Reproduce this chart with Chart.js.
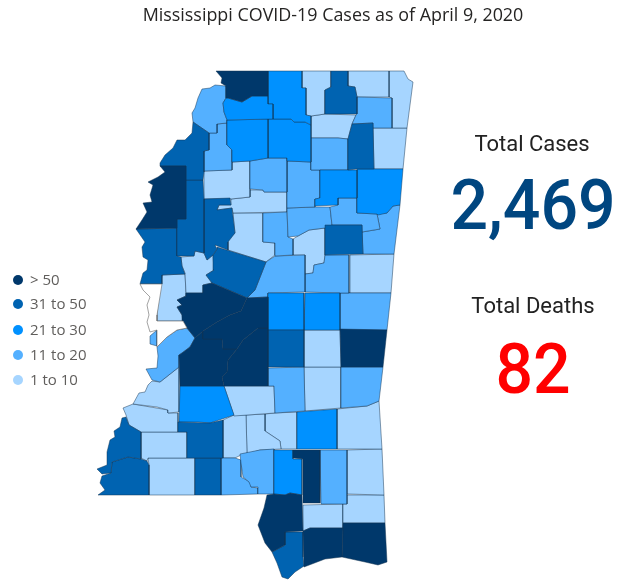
<!DOCTYPE html>
<html lang="en">
<head>
    <meta charset="UTF-8">
    <title>Mississippi COVID-19 Cases</title>
    <script src="https://cdn.jsdelivr.net/npm/chart.js"></script>
    <style>
        body { margin: 0; background: #fff; }
        #page { position: relative; width: 621px; height: 585px; overflow: hidden; }
        canvas { position: absolute; left: 0; top: 0; }
        .txt { position: absolute; white-space: nowrap; text-align: center; }
        #title { left: 0; width: 666px; top: 2px; font: 17.9px "Open Sans", sans-serif; color: #252423; }
        .kpi-label { font: 22px Roboto, sans-serif; color: #222; width: 200px; }
        .kpi-value { font: 500 70px Roboto, sans-serif; width: 260px; transform: scaleX(0.945); line-height: 72px; }
        #legend { position: absolute; left: 12px; top: 267px; }
        .leg { position: absolute; left: 0; height: 24px; font: 15px "Open Sans", sans-serif; color: #605e5c; white-space: nowrap; line-height: 24px; }
        .leg i { position: absolute; left: 1px; top: 8px; width: 10px; height: 10px; border-radius: 50%; }
        .leg span { position: absolute; left: 18px; }
    </style>
</head>
<body>
<div id="page">
    <canvas id="map" width="621" height="585"></canvas>
    <div class="txt" id="title">Mississippi COVID-19 Cases as of April 9, 2020</div>
    <div class="txt kpi-label" style="left:432px;top:131px">Total Cases</div>
    <div class="txt kpi-value" id="cases" style="left:403px;top:169px;color:#004680"></div>
    <div class="txt kpi-label" style="left:433px;top:293px">Total Deaths</div>
    <div class="txt kpi-value" id="deaths" style="left:403px;top:333px;color:#ff0000"></div>
    <div id="legend"></div>
</div>

<script>
    const totalCases = '2,469';
    const totalDeaths = '82';

    const bucketLabels = ['> 50', '31 to 50', '21 to 30', '11 to 20', '1 to 10'];
    const bucketColors = ['#00386b', '#0063b1', '#0091ff', '#54b0ff', '#a6d5ff'];

    // county outlines as [x, y], one list per legend class
    const countiesOver50 = [
        [[216,71],[268,71],[268,96],[252,96],[242,102],[228,98],[226,98],[226,86],[221,83],[222,78]],
        [[186,166],[160,166],[165,172],[158,177],[148,182],[153,185],[150,195],[152,202],[143,203],[147,212],[142,220],[136,229],[177,228],[177,219],[186,219]],
        [[186,293],[203,293],[203,285],[212,283],[247,298],[241,311],[230,315],[217,322],[203,331],[195,338],[187,328],[183,321],[182,315],[177,307],[182,305],[177,300],[186,296]],
        [[230,315],[241,311],[247,298],[268,297],[268,328],[258,328],[243,340],[237,349],[223,349],[222,339],[203,339],[203,331],[217,322]],
        [[195,338],[203,331],[203,339],[222,339],[223,349],[237,349],[228,360],[227,372],[222,377],[224,386],[180,386],[179,355],[182,353],[190,347]],
        [[258,328],[268,328],[268,386],[224,386],[222,377],[227,372],[228,360],[237,349],[243,340]],
        [[340,329],[387,330],[383,367],[341,367]],
        [[293,450],[320,450],[320,503],[303,503],[303,459],[293,458]],
        [[267,495],[274,494],[285,495],[290,493],[302,495],[303,531],[285,532],[285,545],[272,552],[265,543],[258,525],[264,508]],
        [[303,531],[310,528],[343,528],[342,557],[325,559],[304,567]],
        [[343,523],[385,523],[387,562],[378,565],[365,562],[342,557]]
    ];
    const counties31to50 = [
        [[193,122],[209,133],[209,150],[204,151],[204,172],[203,180],[186,180],[186,166],[160,166],[160,163],[165,155],[173,148],[177,140],[185,140],[192,133]],
        [[331,71],[348,71],[348,86],[355,87],[357,97],[357,114],[325,114],[325,90],[331,87]],
        [[352,124],[373,123],[374,169],[357,169],[348,170],[348,139]],
        [[186,180],[203,180],[204,199],[204,253],[195,251],[194,256],[177,256],[177,219],[186,219]],
        [[204,199],[230,198],[231,205],[219,205],[217,210],[232,208],[235,233],[228,242],[228,250],[220,247],[215,245],[217,249],[213,255],[207,260],[204,253]],
        [[136,229],[177,228],[177,256],[181,257],[182,266],[185,274],[162,275],[162,284],[140,284],[143,273],[147,270],[148,260],[143,257],[142,247],[145,242]],
        [[217,247],[266,262],[255,290],[247,298],[212,283],[206,275],[214,270],[213,255],[217,249]],
        [[325,225],[362,225],[363,254],[325,255]],
        [[268,330],[304,330],[304,367],[268,367]],
        [[178,422],[210,423],[223,420],[223,458],[187,458],[187,432],[178,432]],
        [[122,418],[126,417],[129,425],[141,432],[141,459],[128,457],[112,462],[111,473],[102,474],[97,469],[107,465],[107,452],[110,440],[115,437],[114,431],[120,427]],
        [[112,462],[128,457],[141,459],[147,461],[149,465],[149,495],[98,495],[105,490],[100,483],[102,476],[111,473]],
        [[195,458],[221,458],[221,495],[195,495]],
        [[285,532],[303,532],[303,557],[304,566],[295,572],[288,579],[282,577],[277,563],[272,552],[285,545]]
    ];
    const counties21to30 = [
        [[226,98],[228,98],[242,102],[252,96],[268,96],[268,104],[273,104],[273,119],[227,120],[224,112],[223,103]],
        [[268,71],[302,71],[302,88],[306,88],[306,115],[311,116],[311,125],[305,122],[294,122],[291,119],[273,119],[273,104],[268,104]],
        [[227,120],[268,119],[268,158],[250,161],[232,162],[232,150],[227,145]],
        [[268,119],[291,119],[294,122],[305,122],[311,125],[311,162],[287,161],[287,158],[268,158]],
        [[320,170],[357,170],[357,198],[338,198],[338,205],[315,206],[315,199],[320,198]],
        [[357,169],[403,169],[400,205],[393,206],[387,213],[378,215],[377,214],[357,213]],
        [[268,293],[304,293],[304,330],[268,330]],
        [[305,293],[340,293],[340,330],[304,330]],
        [[180,386],[224,386],[234,415],[210,423],[198,422],[179,422]],
        [[297,412],[337,409],[337,449],[297,449]],
        [[274,450],[293,450],[293,459],[302,459],[302,495],[290,493],[285,495],[274,494]]
    ];
    const counties11to20 = [
        [[202,89],[210,88],[215,85],[226,86],[226,98],[223,103],[224,112],[227,120],[227,123],[217,124],[217,133],[209,133],[193,122],[192,113],[195,108],[198,98]],
        [[357,97],[392,98],[392,128],[373,128],[373,123],[352,124],[356,115],[357,114]],
        [[311,138],[338,138],[348,139],[348,170],[320,170],[311,170]],
        [[217,124],[227,123],[227,145],[232,150],[232,170],[204,171],[204,151],[209,150],[209,133],[217,133]],
        [[250,161],[268,158],[287,158],[287,192],[264,192],[263,190],[250,189]],
        [[287,161],[311,162],[311,170],[320,170],[320,198],[315,199],[315,207],[287,208]],
        [[338,198],[357,198],[357,213],[377,214],[380,229],[362,232],[362,225],[332,225],[330,207],[338,205]],
        [[377,214],[387,213],[393,206],[400,205],[394,254],[363,254],[362,232],[380,229]],
        [[287,208],[315,207],[330,207],[332,225],[325,228],[309,230],[298,236],[288,237]],
        [[263,213],[287,212],[288,237],[293,239],[293,255],[275,256],[275,243],[263,242]],
        [[275,256],[305,255],[305,292],[268,293],[268,297],[247,298],[255,290],[266,262]],
        [[305,274],[313,273],[314,265],[324,263],[325,255],[349,255],[349,293],[340,293],[305,292]],
        [[340,293],[391,293],[387,330],[340,330]],
        [[187,328],[195,338],[190,347],[182,353],[179,355],[179,367],[160,382],[152,380],[146,369],[157,368],[158,356],[157,347],[167,337],[177,330]],
        [[150,336],[157,330],[157,346],[150,344]],
        [[268,368],[304,367],[305,411],[275,413],[274,386],[268,386]],
        [[341,367],[383,367],[379,401],[367,406],[341,408]],
        [[240,454],[260,450],[274,449],[274,494],[258,494],[258,487],[251,487],[249,482],[243,477],[241,463]],
        [[221,458],[235,458],[241,460],[241,477],[250,482],[251,487],[258,488],[258,494],[221,495]],
        [[320,450],[347,450],[347,504],[321,504]]
    ];
    const counties1to10 = [
        [[302,71],[331,71],[331,87],[325,90],[325,114],[311,116],[306,115],[306,88],[302,88]],
        [[348,71],[389,71],[389,97],[357,97],[355,87],[348,86]],
        [[389,71],[404,71],[408,79],[413,82],[407,128],[392,128],[392,98],[389,97]],
        [[311,116],[325,114],[356,115],[352,124],[348,139],[338,138],[311,138]],
        [[373,128],[407,128],[403,169],[374,169]],
        [[204,171],[232,170],[232,162],[250,161],[250,197],[231,199],[204,199]],
        [[231,199],[250,197],[250,190],[263,190],[264,192],[287,192],[287,212],[233,213],[232,208],[217,210],[219,205],[231,205]],
        [[233,213],[263,213],[263,242],[275,243],[275,255],[266,262],[228,250],[228,240],[235,233]],
        [[325,228],[325,255],[324,263],[314,265],[313,273],[305,274],[305,255],[293,255],[293,239],[298,236],[309,230]],
        [[350,255],[394,254],[391,293],[349,293]],
        [[195,251],[204,253],[207,260],[213,255],[214,270],[206,275],[212,283],[203,285],[203,293],[186,293],[185,273],[182,266],[181,257],[194,256]],
        [[162,275],[185,274],[186,293],[186,296],[177,300],[182,305],[177,307],[182,315],[183,321],[157,321],[158,300]],
        [[304,330],[340,330],[341,367],[304,367]],
        [[304,367],[341,367],[341,408],[305,411]],
        [[152,381],[160,382],[179,367],[179,412],[168,413],[168,410],[157,407],[133,404],[139,393],[145,392],[148,385]],
        [[123,408],[133,404],[168,410],[168,413],[178,413],[178,432],[141,432],[129,425],[126,415]],
        [[224,386],[274,386],[275,413],[234,416]],
        [[223,420],[234,415],[246,415],[247,453],[241,455],[235,458],[223,458]],
        [[246,415],[265,414],[265,431],[280,441],[281,449],[260,450],[247,454]],
        [[265,414],[275,413],[297,412],[297,449],[281,449],[280,441],[265,431]],
        [[337,409],[367,406],[379,401],[382,449],[337,449]],
        [[347,450],[382,449],[384,495],[347,494]],
        [[347,495],[384,495],[385,523],[343,523],[343,504],[347,504]],
        [[303,505],[343,504],[343,528],[310,528],[303,531]],
        [[141,432],[187,432],[187,458],[148,458],[147,461],[141,458]],
        [[148,458],[195,458],[195,495],[149,495],[149,465]]
    ];
    // drawn white with a grey edge in the source, it has no cases listed
    const countiesNoData = [
        [[140,284],[162,284],[157,315],[157,321],[183,321],[187,328],[177,330],[167,337],[157,347],[157,330],[150,332],[147,322],[149,315],[147,305],[150,297],[143,290]]
    ];

    const countyGroups = [countiesOver50, counties31to50, counties21to30, counties11to20, counties1to10];

    function countyDataset(outline, fillColor, edgeColor) {
        return {
            data: outline.concat([outline[0]]).map(p => ({ x: p[0], y: p[1] })),
            showLine: true,
            fill: 'shape',
            tension: 0,
            pointRadius: 0,
            borderWidth: 0.8,
            borderColor: edgeColor,
            backgroundColor: fillColor
        };
    }

    const datasets = [];
    countiesNoData.forEach(o => datasets.push(countyDataset(o, '#ffffff', 'rgba(110,110,110,0.8)')));
    countyGroups.forEach((group, i) => {
        group.forEach(o => datasets.push(countyDataset(o, bucketColors[i], 'rgba(20,50,80,0.6)')));
    });

    new Chart(document.getElementById('map'), {
        type: 'scatter',
        data: { datasets: datasets },
        options: {
            responsive: false,
            animation: false,
            layout: { padding: 0 },
            plugins: { legend: { display: false }, tooltip: { enabled: false }, title: { display: false } },
            scales: {
                x: { type: 'linear', min: 0, max: 621, display: false },
                y: { type: 'linear', min: 0, max: 585, reverse: true, display: false }
            }
        }
    });

    document.getElementById('cases').textContent = totalCases;
    document.getElementById('deaths').textContent = totalDeaths;

    // legend rows
    const legendTops = [0, 24, 50, 75, 100];
    bucketLabels.forEach((label, i) => {
        const row = document.createElement('div');
        row.className = 'leg';
        row.style.top = legendTops[i] + 'px';
        row.innerHTML = `<i style="background:${bucketColors[i]}"></i><span>${label}</span>`;
        document.getElementById('legend').appendChild(row);
    });
</script>
</body>
</html>
